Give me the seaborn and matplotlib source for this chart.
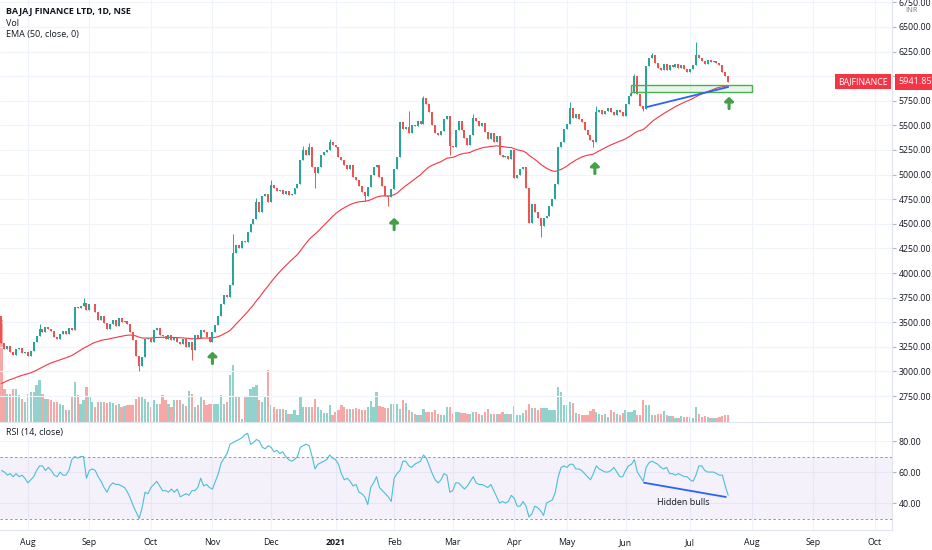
import numpy as np
import pandas as pd
import matplotlib
matplotlib.use('Agg')
import matplotlib.pyplot as plt
import seaborn as sns
from matplotlib.patches import Rectangle

# ---- data (daily bars, ~Jul 2020 -> Jul 2021) ----
first_open = 3560
closes = [
    3290, 3230, 3260, 3200, 3170, 3230, 3240, 3190, 3200, 3160,
    3210, 3300, 3360, 3430, 3400, 3450, 3430, 3410, 3350, 3330,
    3380, 3410, 3380, 3440, 3420, 3650, 3640, 3660, 3700, 3620,
    3680, 3690, 3600, 3520, 3560, 3490, 3430, 3480, 3520, 3460,
    3540, 3500, 3510, 3480, 3400, 3320, 3160, 3060, 3150, 3330,
    3340, 3300, 3420, 3440, 3370, 3360, 3330, 3370, 3320, 3340,
    3300, 3280, 3330, 3250, 3300, 3220, 3370, 3340, 3420, 3400,
    3350, 3300, 3400, 3470, 3560, 3680, 3780, 3760, 3880, 4200,
    4280, 4250, 4330, 4320, 4420, 4500, 4550, 4720, 4620, 4780,
    4800, 4720, 4890, 4860, 4830, 4840, 4800, 4830, 4790, 4800,
    4860, 4900, 5150, 5250, 5200, 5280, 5080, 5020, 5080, 5200,
    5230, 5250, 5330, 5300, 5280, 5180, 5150, 5100, 5060, 5100,
    4980, 4950, 4880, 4820, 4780, 4870, 5000, 5080, 5100, 4980,
    4880, 4780, 4770, 4850, 5060, 5180, 5530, 5460, 5480, 5420,
    5500, 5490, 5540, 5510, 5780, 5720, 5640, 5500, 5420, 5400,
    5440, 5560, 5600, 5290, 5280, 5450, 5540, 5450, 5370, 5300,
    5400, 5580, 5540, 5490, 5520, 5430, 5360, 5420, 5330, 5390,
    5200, 5180, 5190, 5160, 5250, 4970, 5000, 5060, 5080, 4860,
    4510, 4700, 4620, 4560, 4480, 4560, 4580, 4680, 4750, 4900,
    5280, 5330, 5460, 5510, 5680, 5580, 5620, 5560, 5530, 5450,
    5400, 5350, 5330, 5640, 5660, 5620, 5650, 5680, 5640, 5610,
    5660, 5640, 5600, 5720, 5800, 5830, 6000, 5820, 5700, 5670,
    6100, 6180, 6220, 6130, 6080, 6060, 6120, 6060, 6110, 6090,
    6120, 6080, 6110, 6070, 6040, 6070, 6110, 6220, 6180, 6150,
    6120, 6160, 6140, 6150, 6130, 6110, 6040, 6000, 5941.85,
]
wick_high = {13: 3480, 28: 3750, 79: 4400, 87: 4760, 92: 4950, 103: 5290,
             105: 5320, 112: 5360, 139: 5650, 144: 5800, 161: 5620,
             194: 5740, 203: 5700, 216: 6020, 222: 6240, 237: 6350}
wick_low = {47: 3000, 65: 3120, 107: 4860, 124: 4730, 132: 4680,
            153: 5200, 184: 4365, 202: 5280, 219: 5650}
volumes = [
    102, 33, 28, 28, 33, 33, 27, 23, 20, 28,
    30, 30, 37, 42, 28, 23, 23, 22, 20, 20,
    18, 17, 12, 12, 25, 40, 27, 18, 22, 35,
    25, 20, 15, 20, 20, 20, 19, 20, 19, 17,
    18, 15, 16, 17, 17, 17, 23, 25, 25, 23,
    20, 15, 22, 18, 18, 27, 22, 18, 15, 22,
    22, 22, 18, 16, 31, 28, 15, 17, 25, 22,
    17, 18, 18, 18, 18, 27, 18, 20, 47, 57,
    25, 25, 3, 25, 25, 33, 35, 37, 22, 20,
    25, 52, 17, 15, 13, 13, 13, 12, 8, 8,
    12, 7, 25, 15, 15, 15, 15, 23, 15, 12,
    9, 9, 17, 7, 10, 12, 17, 15, 13, 13,
    13, 14, 13, 12, 12, 15, 21, 15, 30, 16,
    15, 14, 14, 18, 18, 18, 13, 22, 19, 12,
    10, 8, 7, 7, 13, 10, 10, 10, 12, 8,
    7, 7, 15, 15, 8, 10, 10, 9, 9, 8,
    8, 10, 10, 8, 7, 10, 13, 8, 8, 8,
    8, 10, 8, 8, 8, 16, 7, 7, 9, 12,
    18, 14, 14, 12, 14, 14, 14, 12, 12, 12,
    35, 30, 17, 17, 20, 19, 9, 8, 7, 7,
    7, 11, 13, 10, 8, 7, 8, 5, 12, 10,
    8, 7, 9, 12, 10, 10, 12, 7, 7, 22,
    17, 17, 7, 7, 8, 8, 11, 7, 6, 6,
    4, 4, 6, 5, 5, 5, 4, 15, 8, 5,
    6, 5, 4, 4, 4, 5, 6, 7, 7,
]
rsi = [
    61, 60, 58, 59, 57, 59, 57, 58, 56, 53,
    55, 57, 61, 64, 64, 61, 63, 61, 58, 57,
    60, 58, 58, 61, 68, 70, 69, 70, 70, 56,
    61, 62, 61, 57, 54, 50, 47, 51, 53, 52,
    52, 51, 50, 47, 43, 38, 34, 30, 37, 47,
    46, 50, 52, 54, 51, 48, 48, 47, 49, 47,
    49, 44, 45, 46, 45, 48, 48, 50, 56, 51,
    52, 50, 49, 54, 59, 66, 69, 72, 78, 79,
    80, 81, 82, 84, 85, 78, 79, 81, 80, 76,
    75, 77, 76, 73, 74, 72, 73, 70, 68, 67,
    68, 70, 76, 77, 78, 77, 70, 62, 65, 66,
    67, 68, 71, 69, 68, 65, 59, 55, 56, 54,
    51, 52, 47, 46, 44, 39, 50, 53, 57, 50,
    48, 46, 44, 41, 56, 59, 61, 67, 67, 64,
    63, 65, 66, 67, 71, 69, 64, 59, 55, 53,
    55, 59, 58, 47, 48, 53, 53, 51, 49, 51,
    54, 57, 53, 52, 52, 51, 50, 52, 48, 44,
    40, 41, 40, 41, 45, 43, 38, 38, 41, 38,
    31, 33, 38, 37, 35, 32, 40, 41, 42, 47,
    57, 63, 64, 63, 65, 65, 62, 62, 61, 59,
    57, 55, 59, 64, 62, 61, 60, 60, 61, 63,
    60, 57, 57, 61, 64, 65, 68, 60, 57, 54,
    63, 66, 67, 66, 65, 63, 62, 63, 59, 59,
    58, 59, 58, 57, 57, 55, 54, 58, 64, 64,
    61, 60, 60, 60, 59, 58, 58, 51, 45,
]
ema_seed = 2860
month_labels = ['Aug', 'Sep', 'Oct', 'Nov', 'Dec', '2021', 'Feb', 'Mar',
                'Apr', 'May', 'Jun', 'Jul', 'Aug', 'Sep', 'Oct']
month_bars = [9, 30, 51, 72, 92, 114, 134, 154, 175, 193, 213, 235, 256, 277, 298]
price_ticks = [2750, 3000, 3250, 3500, 3750, 4000, 4250, 4500, 4750, 5000,
               5250, 5500, 5750, 6000, 6250, 6500, 6750]
rsi_ticks = [40, 60, 80]
# user drawings
arrow_marks = [(72, 3200), (134, 4560), (202.5, 5130), (248.3, 5790)]
support_box = (215, 5840, 256, 5910)
price_trend = [(220.3, 5687), (248, 5890)]
rsi_trend = [(219.3, 53.1), (247.2, 43.9)]
note_text = (232.6, 40.6, 'Hidden bulls')

GREEN = '#26a69a'
RED = '#ef5350'
TXT = '#131722'
GRID = '#f0f3fa'
BORDER = '#e0e3eb'

sns.set_style('white')
plt.rcParams['font.family'] = ['Open Sans', 'DejaVu Sans']
plt.rcParams['font.size'] = 6.3

df = pd.DataFrame({'close': closes, 'volume': volumes, 'rsi': rsi})
df['open'] = df['close'].shift(1).fillna(first_open)
df['high'] = df[['open', 'close']].max(axis=1)
df['low'] = df[['open', 'close']].min(axis=1)
for k, v in wick_high.items():
    df.loc[k, 'high'] = v
for k, v in wick_low.items():
    df.loc[k, 'low'] = v
df['x'] = np.arange(len(df))
df['up'] = df['close'] >= df['open']
df['ema'] = pd.Series([ema_seed] + closes).ewm(span=50, adjust=False).mean().iloc[1:].values

fig = plt.figure(figsize=(9.32, 5.5), dpi=100)
W = 892 / 932
rect_price = [0, 1 - 422 / 550, W, 422 / 550]
ax_vol = fig.add_axes(rect_price)
ax = fig.add_axes(rect_price, sharex=ax_vol)
ax.patch.set_alpha(0)
ax_rsi = fig.add_axes([0, 1 - 530 / 550, W, 108 / 550], sharex=ax_vol)

xmin, xmax = -0.5, 303.9

# volume
vcol = np.where(df['up'], GREEN, RED)
ax_vol.bar(df['x'], df['volume'], width=0.78, color=vcol, alpha=0.5, linewidth=0)
ax_vol.set_ylim(0, max(volumes) * 4.14)
ax_vol.axis('off')

# candles
ccol = np.where(df['up'], GREEN, RED)
ax.vlines(df['x'], df['low'], df['high'], colors=ccol, linewidth=0.7, zorder=3)
body = (df['close'] - df['open']).abs().clip(lower=8)
ax.bar(df['x'], body, bottom=df[['open', 'close']].min(axis=1), width=0.68,
       color=ccol, linewidth=0, zorder=3)
sns.lineplot(x=df['x'], y=df['ema'], ax=ax, color='#f23645', linewidth=0.8, zorder=2)

# drawings
x0, y0, x1, y1 = support_box
ax.add_patch(Rectangle((x0, y0), x1 - x0, y1 - y0, facecolor='#4caf50', alpha=0.12,
                       edgecolor='none', zorder=4))
ax.add_patch(Rectangle((x0, y0), x1 - x0, y1 - y0, facecolor='none',
                       edgecolor='#4caf50', linewidth=1.0, zorder=4))
ax.plot([p[0] for p in price_trend], [p[1] for p in price_trend], color='#2962ff',
        linewidth=1.3, zorder=5)
for bx, by in arrow_marks:
    ax.annotate('', xy=(bx, by), xytext=(0, -8.5), textcoords='offset points',
                arrowprops=dict(arrowstyle='-|>,head_width=0.4,head_length=0.36',
                                color='#43a047', lw=2.2, shrinkA=0, shrinkB=0))

ax.set_xlim(xmin, xmax)
ax.set_ylim(2486, 6774)
ax.set_yticks(price_ticks)
# the 6000 label sits under the last-price tag, as on the reference
ax.set_yticklabels(['' if t == 6000 else f'{t:.2f}' for t in price_ticks])
ax.yaxis.tick_right()
ax.tick_params(axis='y', length=3, color='#b2b5be', pad=2, labelcolor=TXT, labelsize=6.3)
ax.tick_params(axis='x', length=0, labelbottom=False)
ax.set_xticks(month_bars)
ax.grid(True, color=GRID, linewidth=0.8)
ax.set_axisbelow(True)
for s in ['top', 'left', 'bottom']:
    ax.spines[s].set_visible(False)
ax.spines['right'].set_color(BORDER)
ax.set_xlabel('')
ax.set_ylabel('')

# last price labels
last = closes[-1]
ax.annotate(f'{last:.2f}', xy=(1, last), xycoords=('axes fraction', 'data'),
            xytext=(4.5, 0), textcoords='offset points', ha='left', va='center',
            color='white', fontsize=6.5, annotation_clip=False, zorder=10,
            bbox=dict(boxstyle='square,pad=0.35', fc='#f23645', ec='none'))
ax.annotate('BAJFINANCE', xy=(1, last), xycoords=('axes fraction', 'data'),
            xytext=(-3, 0), textcoords='offset points', ha='right', va='center',
            color='white', fontsize=6.3, annotation_clip=False, zorder=10,
            bbox=dict(boxstyle='square,pad=0.35', fc='#f23645', ec='none'))

# RSI pane
ax_rsi.axhspan(30, 70, color='#7e57c2', alpha=0.08, linewidth=0)
for lvl in (70, 30):
    ax_rsi.axhline(lvl, color='#9598a1', linewidth=0.7, linestyle=(0, (2.5, 2.5)))
sns.lineplot(x=df['x'], y=df['rsi'], ax=ax_rsi, color='#4cbfd6', linewidth=0.8)
ax_rsi.plot([p[0] for p in rsi_trend], [p[1] for p in rsi_trend], color='#2962ff',
            linewidth=1.3)
ax_rsi.text(note_text[0], note_text[1], note_text[2], ha='center', va='center',
            color=TXT, fontsize=6.5)
ax_rsi.set_ylim(22.6, 92.3)
ax_rsi.set_yticks(rsi_ticks)
ax_rsi.set_yticklabels([f'{t:.2f}' for t in rsi_ticks])
ax_rsi.yaxis.tick_right()
ax_rsi.tick_params(axis='y', length=3, color='#b2b5be', pad=2, labelcolor=TXT, labelsize=6.3)
ax_rsi.set_xticks(month_bars)
ax_rsi.set_xticklabels(month_labels)
ax_rsi.tick_params(axis='x', length=0, pad=6, labelcolor=TXT, labelsize=6.3)
for lbl in ax_rsi.get_xticklabels():
    if lbl.get_text() == '2021':
        lbl.set_fontweight('bold')
ax_rsi.grid(True, color=GRID, linewidth=0.8)
ax_rsi.set_axisbelow(True)
ax_rsi.spines['left'].set_visible(False)
for s in ['top', 'bottom', 'right']:
    ax_rsi.spines[s].set_color(BORDER)
ax_rsi.set_xlim(xmin, xmax)
ax_rsi.set_xlabel('')
ax_rsi.set_ylabel('')

# legend texts
fig.text(6 / 932, 1 - 11.5 / 550, 'BAJAJ FINANCE LTD, 1D, NSE', fontsize=6.5,
         fontweight='bold', color=TXT, va='center')
fig.text(6 / 932, 1 - 23.3 / 550, 'Vol', fontsize=6.5, color=TXT, va='center')
fig.text(6 / 932, 1 - 34.5 / 550, 'EMA (50, close, 0)', fontsize=6.5, color=TXT, va='center')
fig.text(6 / 932, 1 - 433 / 550, 'RSI (14, close)', fontsize=6.5, color=TXT, va='center')
fig.text(912 / 932, 1 - 11 / 550, 'INR', fontsize=5.5, color='#787b86', ha='center', va='center')

fig.savefig('out.png', dpi=100, facecolor='white')
